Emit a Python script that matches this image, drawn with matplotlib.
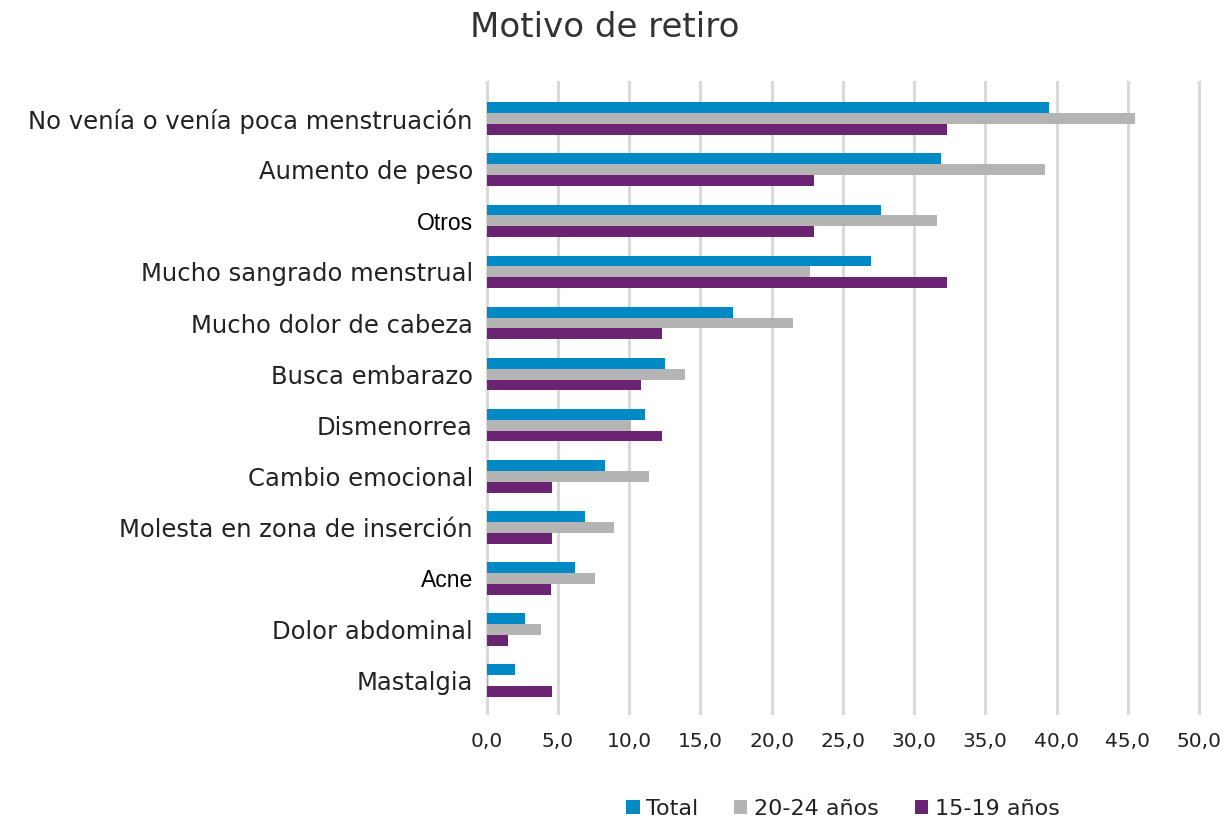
import matplotlib.pyplot as plt
import numpy as np

# data
categorias = ["No venía o venía poca menstruación", "Aumento de peso", "Otros",
              "Mucho sangrado menstrual", "Mucho dolor de cabeza", "Busca embarazo",
              "Dismenorrea", "Cambio emocional", "Molesta en zona de inserción",
              "Acne", "Dolor abdominal", "Mastalgia"]
total = [39.5, 31.9, 27.7, 27.0, 17.3, 12.5, 11.1, 8.3, 6.9, 6.2, 2.7, 2.0]
edad_20_24 = [45.5, 39.2, 31.6, 22.7, 21.5, 13.9, 10.1, 11.4, 8.9, 7.6, 3.8, 0.1]
edad_15_19 = [32.3, 23.0, 23.0, 32.3, 12.3, 10.8, 12.3, 4.6, 4.6, 4.5, 1.5, 4.6]
series_names = ["Total", "20-24 años", "15-19 años"]
ticks_x = [0, 5, 10, 15, 20, 25, 30, 35, 40, 45, 50]

colors = ["#0089C4", "#B4B4B4", "#6B2374"]

fig = plt.figure(figsize=(12.26, 8.25), dpi=100)
ax = fig.add_axes([0.397, 0.136, 0.581, 0.765])

y = np.arange(len(categorias))
h = 0.215
for k, vals in enumerate([total, edad_20_24, edad_15_19]):
    ax.barh(y + (k - 1) * h, vals, height=h, color=colors[k], label=series_names[k], zorder=3)

ax.set_xlim(0, 50)
ax.set_ylim(len(categorias) - 1 + 0.64, -0.73)
ax.set_xticks(ticks_x)
ax.set_xticklabels([f"{t:.1f}".replace(".", ",") for t in ticks_x], fontsize=14.5, color="#222222")
ax.set_yticks(y)
ax.set_yticklabels(categorias, fontsize=17.5, color="#222222")
# "Otros" and "Acne" come in another font in the original
for lab in ax.get_yticklabels():
    if lab.get_text() in ("Otros", "Acne"):
        lab.set_fontfamily("Liberation Sans")
        lab.set_fontsize(16.5)
        lab.set_color("black")
ax.tick_params(length=0, pad=10)
ax.tick_params(axis="x", pad=14)
ax.xaxis.grid(True, color="#D9D9D9", lw=2.2, zorder=0)
for line in ax.get_xgridlines():
    line.set_clip_on(False)
for s in ax.spines.values():
    s.set_visible(False)

fig.text(0.493, 0.967, "Motivo de retiro", ha="center", va="center", fontsize=24.5, color="#333333")

ax.legend(loc="upper center", bbox_to_anchor=(0.5, -0.105), ncol=3, frameon=False,
          fontsize=16, handlelength=0.6, handleheight=0.6, handletextpad=0.3,
          columnspacing=1.6, labelcolor="#222222")

fig.savefig("out.png", dpi=100)
